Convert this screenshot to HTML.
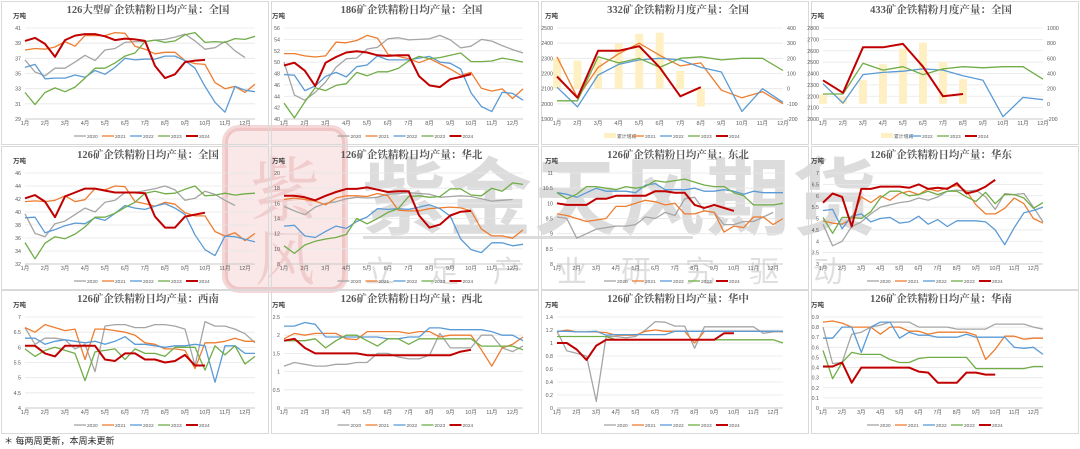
<!DOCTYPE html>
<html><head><meta charset="utf-8">
<style>
html,body{margin:0;padding:0;background:#fff;}
body{width:1080px;height:449px;overflow:hidden;position:relative;font-family:"Liberation Sans","Noto Sans CJK SC",sans-serif;}
svg{position:absolute;left:0;top:0;}
</style></head>
<body>
<svg id="chart" width="1080" height="449" viewBox="0 0 1080 449" xmlns="http://www.w3.org/2000/svg"></svg>
<script>
// ---------- data ----------
const months = ["1月","2月","3月","4月","5月","6月","7月","8月","9月","10月","11月","12月"];
const years = ["2020","2021","2022","2023","2024"];
const titles = ["126大型矿企铁精粉日均产量：全国","186矿企铁精粉日均产量：全国","332矿企铁精粉月度产量：全国","433矿企铁精粉月度产量：全国",
"126矿企铁精粉日均产量：全国","126矿企铁精粉日均产量：华北","126矿企铁精粉日均产量：东北","126矿企铁精粉日均产量：华东",
"126矿企铁精粉日均产量：西南","126矿企铁精粉日均产量：西北","126矿企铁精粉日均产量：华中","126矿企铁精粉日均产量：华南"];
const yTicks = [[29,31,33,35,37,39,41],[40,42,44,46,48,50,52,54,56],[1900,2000,2100,2200,2300,2400,2500],[2000,2100,2200,2300,2400,2500,2600,2700,2800],
[32,34,36,38,40,42,44,46],[8,10,12,14,16,18,20],[8,8.5,9,9.5,10,10.5,11],[3,3.5,4,4.5,5,5.5,6,6.5,7],
[4,4.5,5,5.5,6,6.5,7],[0,0.5,1,1.5,2,2.5],[0,0.2,0.4,0.6,0.8,1,1.2,1.4],[0,0.1,0.2,0.3,0.4,0.5,0.6,0.7,0.8,0.9]];
const rTicks3 = [-200,-100,0,100,200,300,400];
const rTicks4 = [-200,0,200,400,600,800,1000];
const bars3 = [200,185,210,297,362,369,117,-119];
const bars4 = [120,93,312,523,729,807,553,326];
const p3_2021 = [2310,2040,2240,2330,2400,2320,2250,2270,2090,2040,2080,2000];
const p3_2022 = [2110,1980,2190,2260,2290,2300,2290,2240,2210,1950,2100,2010];
const p3_2023 = [2020,2020,2310,2270,2300,2240,2300,2310,2290,2300,2300,2220];
const p3_2024 = [2180,2040,2350,2350,2380,2240,2050,2110];
const p4_2022 = [2310,2140,2390,2410,2420,2440,2430,2380,2340,2020,2190,2170];
const p4_2023 = [2220,2220,2490,2430,2460,2390,2440,2460,2450,2460,2460,2350];
const p4_2024 = [2340,2230,2630,2630,2660,2460,2200,2220];
// weekly panels: [2020,2021,2022,2023,2024]
const w1 = [[36.8,35.2,34.7,35.7,35.7,36.5,37.4,36.7,38.1,38.3,39.1,39.2,39.2,39.4,39.5,39.8,40.2,39.3,38.2,38.4,39.2,38.0,37.1],
[38.1,38.3,38.2,38.5,39.2,38.6,40.0,40.0,40.0,40.4,40.3,38.6,38.2,37.6,37.8,37.8,36.7,36.3,36.2,33.8,33.0,33.3,32.5,33.6],
[35.8,36.2,34.3,34.4,34.4,34.8,34.5,35.4,34.9,35.8,37.0,36.8,36.9,36.9,37.3,37.3,36.7,35.7,33.3,31.2,29.9,33.3,32.8,32.6],
[32.5,30.9,32.5,33.1,32.6,33.2,34.4,35.7,35.7,36.4,37.3,37.7,39.2,39.4,39.1,39.3,40.1,40.4,39.1,39.2,39.1,39.6,39.5,39.9],
[39.3,39.7,38.9,37.2,39.4,40.0,40.2,40.2,39.9,39.4,39.6,39.5,39.3,36.0,34.4,34.9,36.5,36.7,36.8]];
const w2 = [[50,44.2,43.3,44.7,46.5,49.1,50.6,50.7,52.3,52.6,54.1,54.3,53.9,54.0,54.1,54.7,53.9,52.5,52.8,54.0,53.7,52.9,52.2,51.6],
[51.5,51.5,51.1,50.9,51.1,53.5,53.4,53.8,54.7,54.2,51.4,51.0,50.6,49.9,50.6,49.7,48.8,47.7,48.2,45.4,44.9,45.3,43.6,45.3],
[47.8,47.7,45.0,45.8,47.5,48.2,47.4,49.2,49.5,51.1,50.4,50.4,50.4,50.7,51.0,50.0,49.8,48.8,44.6,42.2,41.3,44.7,44.5,43.3],
[42.8,40.2,43.0,45.5,45.0,45.9,46.2,48.2,47.6,48.3,48.3,48.9,50.2,51.0,50.6,50.8,51.2,51.6,50.1,50.1,50.2,50.7,50.4,50.0],
[49.4,49.9,48.5,45.8,49.9,50.9,51.7,51.9,51.7,51.2,51.1,51.2,51.2,47.5,45.9,45.6,47.0,47.4,47.9]];
const w5 = [[39.7,36.7,36.2,38.2,38.6,39.6,40.6,40.0,41.5,41.8,43.0,43.0,43.3,43.6,44.0,43.4,41.8,42.1,43.2,42.7,41.8,41.0],
[41.6,41.7,41.6,41.8,42.5,41.6,41.9,43.6,43.4,44.0,43.9,41.6,41.3,40.9,41.5,41.2,39.9,39.4,39.4,37.0,36.3,36.8,35.6,36.7],
[39.1,39.2,36.8,37.3,37.9,38.3,38.2,39.1,38.7,39.8,41.0,40.6,40.4,40.9,41.3,40.6,39.6,36.5,34.2,33.3,36.3,36.2,35.8,35.4],
[35.3,32.8,35.2,36.2,35.9,36.6,37.7,39.2,39.2,39.8,40.7,41.5,42.9,43.2,42.8,42.9,43.5,44.0,42.5,42.6,42.9,42.6,42.8,42.9],
[42.1,42.6,41.6,39.2,42.4,43.0,43.6,43.6,43.3,43.0,43.0,43.0,42.9,39.3,37.6,37.6,39.3,39.6,39.9]];
const w6 = [[15.6,15.0,14.5,15.5,16.0,16.2,16.6,16.8,16.7,16.8,17.2,17.3,17.4,17.3,17.2,16.8,16.9,17.0,16.9,16.6,16.3,16.4,16.5],
[16.5,16.7,16.5,16.3,15.8,16.7,17.0,17.0,16.9,17.3,17.0,15.1,15.0,15.0,15.3,15.4,15.5,15.4,15.0,12.6,11.7,11.7,11.4,12.5],
[13.0,13.1,11.7,11.5,12.3,13.0,12.7,13.6,14.2,15.3,15.2,15.3,15.2,15.5,15.8,15.3,14.3,11.3,9.9,9.5,10.8,10.8,10.4,10.6],
[10.4,9.4,10.5,11.0,11.3,11.5,11.9,14.0,13.3,14.0,14.8,15.3,16.9,17.0,16.8,16.9,17.9,17.9,17.1,17.0,18.0,17.6,18.7,18.5],
[17.0,17.0,16.8,16.4,17.0,17.5,17.9,17.9,18.1,17.8,17.5,17.6,17.6,14.4,12.8,13.2,14.4,14.9,15.0]];
const w7 = [[9.55,9.5,8.85,9.0,9.15,9.2,9.25,9.25,9.3,9.55,9.5,9.7,9.6,10.15,10.2,9.75,9.7,9.3,9.3,9.4,9.4,9.55,9.7],
[9.65,9.6,9.5,9.4,9.45,9.5,9.9,9.9,10.0,10.1,10.05,9.95,10.0,9.65,9.65,9.75,9.7,9.05,9.25,9.2,9.55,9.55,9.3,9.5],
[10.35,10.3,10.2,10.35,10.5,10.4,10.4,10.4,10.35,10.6,10.65,10.45,10.45,10.45,10.5,10.4,10.4,10.45,10.4,10.3,10.4,10.35,10.35,10.35],
[10.35,10.15,10.3,10.55,10.55,10.5,10.45,10.55,10.5,10.55,10.75,10.7,10.75,10.8,10.7,10.6,10.55,10.55,10.35,10.25,9.95,9.95,9.95,10.0],
[10.0,9.95,9.95,9.95,10.15,10.15,10.25,10.25,10.25,10.25,10.4,10.4,10.35,10.35,9.95,9.85,9.95,9.85,9.75]];
const w8 = [[4.75,3.8,4.0,4.65,4.85,5.2,5.5,5.6,5.7,5.75,5.9,5.8,5.95,6.2,6.25,6.2,6.25,5.95,5.4,6.1,6.05,6.1,5.5,4.85],
[4.9,4.8,4.75,5.0,5.95,5.7,6.0,5.8,6.1,6.2,6.05,6.3,6.2,6.35,6.45,6.2,5.6,5.2,5.2,5.45,5.9,5.65,5.0,4.8],
[5.35,5.4,4.55,5.1,5.2,4.85,5.0,5.05,4.8,4.85,5.1,4.75,4.95,4.65,4.9,4.9,4.9,4.85,4.5,3.85,4.6,5.25,5.35,5.5],
[5.05,4.35,5.05,5.05,5.0,5.3,5.9,6.2,6.2,6.0,6.05,6.2,6.05,6.2,6.2,5.95,5.75,6.15,5.65,6.05,6.05,5.9,5.45,5.7],
[5.7,6.1,5.95,4.65,6.3,6.3,6.4,6.4,6.4,6.35,6.5,6.3,6.35,6.3,6.55,6.1,6.2,6.4,6.7]];
const w9 = [[6.65,6.1,6.3,6.3,6.25,5.95,6.1,5.2,6.7,6.75,6.75,6.65,6.65,6.75,6.75,6.7,6.6,5.4,6.85,6.7,6.7,6.6,6.45,6.15],
[6.65,6.5,6.75,6.65,6.55,6.6,5.6,6.6,6.6,6.55,6.5,6.4,6.15,6.1,5.95,5.95,5.9,5.3,6.15,6.15,6.2,6.3,6.2,6.2],
[6.3,6.3,6.1,6.2,6.25,6.2,6.15,6.2,6.1,6.2,6.35,6.1,6.1,6.05,6.0,6.05,6.05,6.1,6.05,4.85,6.05,6.05,5.8,5.8],
[5.95,5.7,5.9,6.0,5.9,5.8,4.9,5.85,5.9,5.95,5.6,5.95,5.8,5.8,5.7,6.0,6.0,6.0,5.25,6.05,5.75,6.05,5.45,5.7],
[6.05,6.05,5.8,5.7,6.05,6.05,6.05,6.05,5.6,5.55,5.8,5.8,5.6,5.6,5.5,5.55,5.75,5.4,5.4]];
const w10 = [[1.15,1.25,1.2,1.15,1.15,1.2,1.2,1.25,1.25,1.5,1.5,1.4,1.35,1.35,1.45,2.05,1.65,1.65,1.65,2.0,2.0,1.65,1.55,1.7],
[1.9,2.05,2.0,2.05,2.05,2.05,1.9,1.88,2.1,2.1,2.1,2.1,2.05,2.1,2.1,1.95,2.0,2.0,2.0,1.6,1.15,1.65,1.75,1.95],
[2.25,2.25,2.35,2.3,1.95,1.95,1.95,1.95,1.95,1.95,1.9,1.9,1.95,1.95,2.2,2.2,2.15,2.15,2.15,2.15,2.1,2.0,2.0,1.85],
[1.85,1.85,1.85,1.9,1.65,1.85,2.0,2.0,1.85,1.7,1.9,1.9,1.75,1.9,1.9,1.9,1.9,1.9,1.9,1.7,1.7,1.7,1.7,1.6],
[1.85,1.9,1.65,1.5,1.5,1.5,1.5,1.5,1.45,1.45,1.45,1.45,1.45,1.45,1.45,1.45,1.45,1.55,1.6]];
const w11 = [[1.18,0.88,0.84,0.8,0.1,1.1,1.1,1.08,1.1,1.2,1.33,1.32,1.26,1.26,0.92,1.25,1.25,1.25,1.25,1.25,1.25,1.15,1.17,1.18],
[1.17,1.2,1.17,1.17,1.17,1.16,1.12,1.12,1.12,1.18,1.2,1.18,1.18,1.18,1.0,1.18,1.18,1.18,1.18,1.18,1.18,1.18,1.18,1.17],
[1.18,1.18,1.17,1.17,1.18,1.12,1.13,1.13,1.13,1.13,1.13,1.13,1.18,1.18,1.18,1.18,1.18,1.18,1.18,1.18,1.18,1.18,1.18,1.18],
[1.1,1.1,1.1,1.1,1.1,1.1,1.05,1.05,1.05,1.05,1.05,1.05,1.05,1.05,1.05,1.05,1.05,1.05,1.05,1.05,1.05,1.05,1.05,1.0],
[1.0,1.0,0.9,0.74,0.96,1.05,1.05,1.05,1.05,1.05,1.05,1.05,1.05,1.05,1.05,1.05,1.05,1.15,1.15]];
const w12 = [[0.8,0.44,0.45,0.73,0.75,0.8,0.82,0.85,0.85,0.85,0.8,0.8,0.8,0.8,0.78,0.78,0.78,0.78,0.83,0.83,0.83,0.83,0.8,0.78],
[0.85,0.86,0.84,0.8,0.8,0.8,0.73,0.8,0.8,0.76,0.76,0.73,0.75,0.75,0.75,0.75,0.72,0.48,0.58,0.71,0.71,0.68,0.69,0.69],
[0.69,0.69,0.8,0.8,0.55,0.8,0.85,0.85,0.69,0.75,0.72,0.72,0.7,0.7,0.7,0.73,0.7,0.7,0.7,0.7,0.6,0.59,0.6,0.53],
[0.57,0.29,0.45,0.55,0.53,0.53,0.53,0.48,0.45,0.45,0.49,0.5,0.5,0.5,0.5,0.5,0.39,0.39,0.39,0.39,0.39,0.39,0.41,0.41],
[0.41,0.41,0.45,0.25,0.4,0.4,0.4,0.4,0.4,0.4,0.36,0.35,0.25,0.25,0.25,0.35,0.35,0.33,0.33]];

// ---------- drawing ----------
const NS="http://www.w3.org/2000/svg";
const svg=document.getElementById("chart");
function mk(tag,attrs,parent,text){const e=document.createElementNS(NS,tag);for(const k in attrs)e.setAttribute(k,attrs[k]);if(text!==undefined)e.textContent=text;(parent||svg).appendChild(e);return e;}
const COLORS={"2020":"#a5a5a5","2021":"#ed7d31","2022":"#5b9bd5","2023":"#70ad47","2024":"#c00000"};
const colX=[[0,270,25,255],[270,540,284,523],[540,810,557,783],[810,1080,823,1043]];
const rowY=[0,145,289];

// watermark
const wm=mk("g",{opacity:"1"});


mk("rect",{x:225,y:128,width:120,height:162,rx:14,fill:"rgba(215,80,80,0.13)",stroke:"rgba(200,60,60,0.2)","stroke-width":6},wm);
mk("text",{x:285,y:215,"text-anchor":"middle","font-size":70,fill:"rgba(200,60,60,0.16)","font-family":"'Noto Serif CJK SC',serif"},wm,"紫");
mk("text",{x:285,y:280,"text-anchor":"middle","font-size":60,fill:"rgba(200,60,60,0.16)","font-family":"'Noto Serif CJK SC',serif"},wm,"风");
mk("text",{x:362,y:228,"font-size":84,fill:"rgba(140,140,140,0.3)","letter-spacing":"2","font-family":"'Noto Sans CJK SC',sans-serif","font-weight":"bold"},wm,"紫金天风期货");
mk("rect",{x:363,y:236,width:330,height:3,fill:"rgba(140,140,140,0.3)"},wm);
mk("text",{x:365,y:282,"font-size":30,fill:"rgba(150,150,150,0.3)","letter-spacing":"34","font-family":"'Noto Sans CJK SC',sans-serif"},wm,"立足产业研究驱动");

function panel(idx,opts){
  const c=idx%4,r=Math.floor(idx/4);
  const [x0,x1,pl,pr]=colX[c]; const oy=rowY[r];
  const pt=oy+28,pb=oy+119;
  const g=mk("g",{});
  
  
  mk("rect",{x:x0+1.5,y:oy+1.5,width:x1-x0-3,height:143,fill:"none",stroke:"#d9d9d9","stroke-width":1},g);
  const t=mk("text",{x:(pl+pr)/2+8,y:oy+13,"text-anchor":"middle","font-size":10.5,"font-weight":"bold",fill:"#595959","font-family":"'Liberation Serif','Noto Serif CJK SC',serif"},g,titles[idx]);
  
  
  const u=mk("text",{x:pl-12,y:oy+18,"font-size":6.5,"font-weight":"bold",fill:"#404040"},g,"万吨");
  
  
  const yt=yTicks[idx]; const ymin=yt[0],ymax=yt[yt.length-1];
  const Y=v=>pb-(v-ymin)/(ymax-ymin)*(pb-pt);
  const monthly=opts.monthly;
  const X=monthly?(i=>pl+i*(pr-pl)/11):(i=>pl+i*(pr-pl)/23);
  const XM=m=>monthly?X(m):pl+m*(pr-pl)/11.5;
  yt.forEach(v=>{
    mk("line",{x1:pl,x2:pr,y1:Y(v),y2:Y(v),stroke:"#e6e6e6","stroke-width":0.8},g);
    const tl=mk("text",{x:pl-4,y:Y(v)+2,"text-anchor":"end","font-size":5.3,fill:"#595959"},g,String(v));
    
    
  });
  mk("line",{x1:pl,x2:pr,y1:pb,y2:pb,stroke:"#bfbfbf","stroke-width":0.8},g);
  months.forEach((m,i)=>{
    const xl=mk("text",{x:XM(i),y:pb+6,"text-anchor":"middle","font-size":5.5,fill:"#595959"},g,m);
    
    
  });
  let R=null;
  if(opts.bars){
    const rt=opts.rt; const rmin=rt[0],rmax=rt[rt.length-1];
    R=v=>pb-(v-rmin)/(rmax-rmin)*(pb-pt);
    rt.forEach(v=>{const rl=mk("text",{x:pr+4,y:R(v)+2,"font-size":5.3,fill:"#595959"},g,String(v));
      
      });
    opts.bars.forEach((v,i)=>{
      const y0=R(0),y1=R(v);
      const b=mk("rect",{x:X(i)-4,y:Math.min(y0,y1),width:8,height:Math.abs(y1-y0),fill:"#fff0c4"},g);
      
      
    });
  }
  opts.series.forEach(s=>{
    const d=s.vals.map((v,i)=>(i?"L":"M")+X(i).toFixed(1)+","+Y(v).toFixed(1)).join(" ");
    const p=mk("path",{d:d,fill:"none",stroke:COLORS[s.y],"stroke-width":s.y==="2024"?2:1.3,"stroke-linejoin":"round"},g);
    
    
  });
  const items=opts.legend;
  const iw=28; let lx=(pl+pr)/2-items.length*iw/2+4; const ly=oy+136;
  items.forEach(it=>{
    const lg=mk("g",{},g);
    
    
    if(it==="累计增减"){mk("rect",{x:lx,y:ly-3,width:12,height:5,fill:"#fff0c4"},lg);}
    else mk("line",{x1:lx,x2:lx+12,y1:ly,y2:ly,stroke:COLORS[it],"stroke-width":it==="2024"?2:1.3},lg);
    mk("text",{x:lx+13,y:ly+2,"font-size":4.8,fill:"#595959"},lg,it);
    lx+=iw;
  });
}
const wk=[w1,w2,null,null,w5,w6,w7,w8,w9,w10,w11,w12];
wk.forEach((w,i)=>{ if(w) panel(i,{series:years.map((y,k)=>({y:y,vals:w[k]})),legend:years}); });
panel(2,{monthly:true,bars:bars3,rt:rTicks3,series:[{y:"2021",vals:p3_2021},{y:"2022",vals:p3_2022},{y:"2023",vals:p3_2023},{y:"2024",vals:p3_2024}],legend:["累计增减","2021","2022","2023","2024"]});
panel(3,{monthly:true,bars:bars4,rt:rTicks4,series:[{y:"2022",vals:p4_2022},{y:"2023",vals:p4_2023},{y:"2024",vals:p4_2024}],legend:["累计增减","2022","2023","2024"]});
const fn=mk("text",{x:4,y:444,"font-size":9,fill:"#262626"},svg,"＊ 每两周更新，本周未更新");


</script>
</body></html>
